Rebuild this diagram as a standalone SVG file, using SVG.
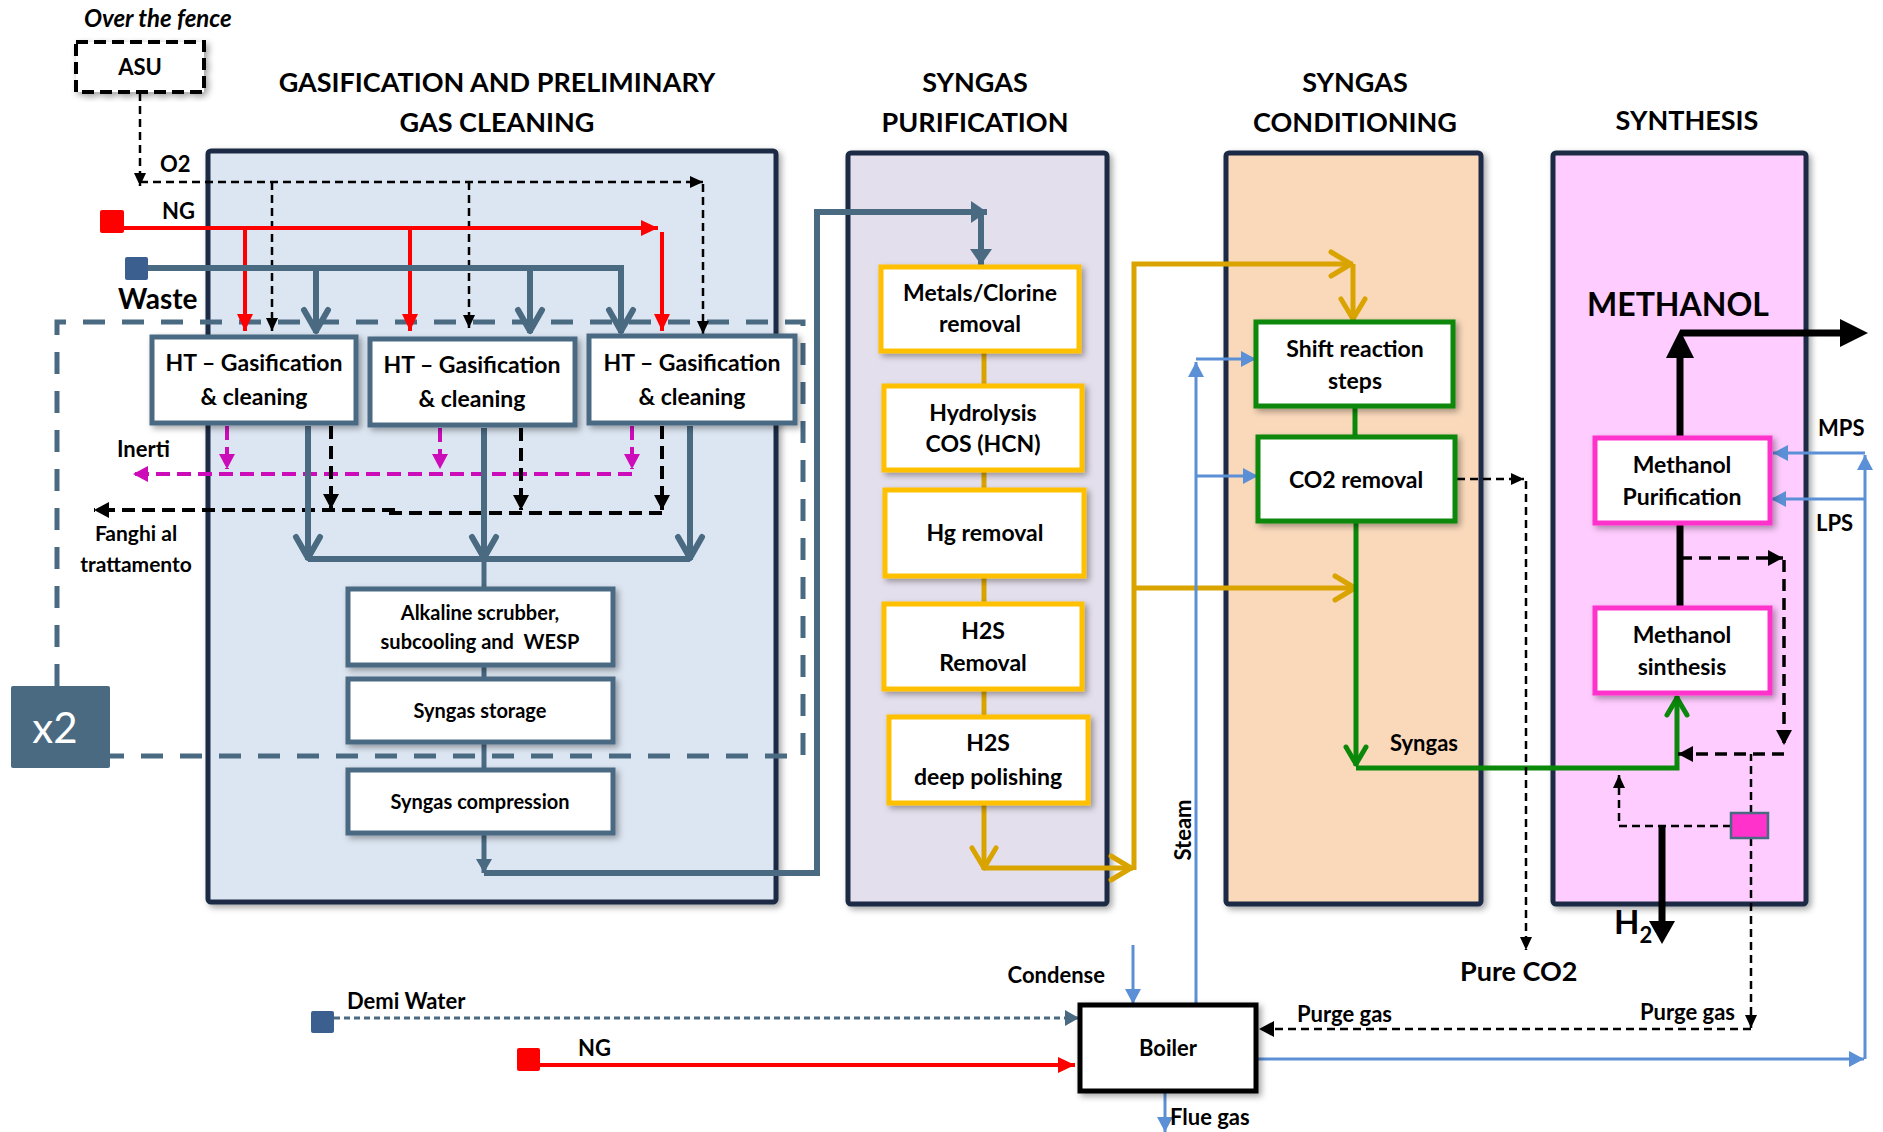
<svg xmlns="http://www.w3.org/2000/svg" width="1883" height="1132" viewBox="0 0 1883 1132">
<style>
  text { font-family: Lato, "Liberation Sans", sans-serif; font-weight: bold; fill: #000; }
  .title { font-size: 27px; text-anchor: middle; }
  .bt { font-size: 23px; text-anchor: middle; }
  .bs { font-size: 20px; text-anchor: middle; }
  .lbl { font-size: 22px; }
  .panel { stroke: #1b2b45; stroke-width: 5; }
  .sbox { fill: #fff; stroke: #4a6a82; stroke-width: 5; }
  .gbox { fill: #fff; stroke: #ffc000; stroke-width: 5; }
  .grbox { fill: #fff; stroke: #0a880a; stroke-width: 5; }
  .mbox { fill: #fff; stroke: #ff33cc; stroke-width: 5; }
  .steel { fill: none; stroke: #4a6a82; stroke-width: 6; }
  .gold { fill: none; stroke: #d9a400; stroke-width: 5; }
  .green { fill: none; stroke: #0a880a; stroke-width: 5; }
  .blue { fill: none; stroke: #5b90d6; stroke-width: 3; }
  .red { fill: none; stroke: #ff0000; stroke-width: 4; }
  .dblk { fill: none; stroke: #000; stroke-width: 2.5; stroke-dasharray: 8 5; }
  .dblk2 { fill: none; stroke: #000; stroke-width: 4; stroke-dasharray: 13 7; }
  .dmag { fill: none; stroke: #cc0cb8; stroke-width: 4; stroke-dasharray: 14 7; }
  .thick { fill: none; stroke: #000; stroke-width: 7; }
</style>
<defs>
  <filter id="sh" x="-10%" y="-10%" width="130%" height="130%">
    <feDropShadow dx="3" dy="3" stdDeviation="3" flood-color="#000" flood-opacity="0.35"/>
  </filter>
  <marker id="aBlk" markerUnits="userSpaceOnUse" orient="auto" overflow="visible" markerWidth="1" markerHeight="1">
    <path d="M-13,-6 L0,0 L-13,6 Z" fill="#000"/>
  </marker>
  <marker id="aBlk2" markerUnits="userSpaceOnUse" orient="auto" overflow="visible" markerWidth="1" markerHeight="1">
    <path d="M-15,-8 L0,0 L-15,8 Z" fill="#000"/>
  </marker>
  <marker id="aRed" markerUnits="userSpaceOnUse" orient="auto" overflow="visible" markerWidth="1" markerHeight="1">
    <path d="M-17,-8 L0,0 L-17,8 Z" fill="#ff0000"/>
  </marker>
  <marker id="aMag" markerUnits="userSpaceOnUse" orient="auto" overflow="visible" markerWidth="1" markerHeight="1">
    <path d="M-15,-8 L0,0 L-15,8 Z" fill="#cc0cb8"/>
  </marker>
  <marker id="aBlue" markerUnits="userSpaceOnUse" orient="auto" overflow="visible" markerWidth="1" markerHeight="1">
    <path d="M-15,-8 L0,0 L-15,8 Z" fill="#5b90d6"/>
  </marker>
  <marker id="aSteel" markerUnits="userSpaceOnUse" orient="auto" overflow="visible" markerWidth="1" markerHeight="1">
    <path d="M-16,-11 L0,0 L-16,11 Z" fill="#4a6a82"/>
  </marker>
  <marker id="aSteelS" markerUnits="userSpaceOnUse" orient="auto" overflow="visible" markerWidth="1" markerHeight="1">
    <path d="M-14,-8 L0,0 L-14,8 Z" fill="#4a6a82"/>
  </marker>
  <marker id="cSteel" markerUnits="userSpaceOnUse" orient="auto" overflow="visible" markerWidth="1" markerHeight="1">
    <path d="M-23,-12 L-2,0 L-23,12" fill="none" stroke="#4a6a82" stroke-width="6" stroke-linecap="round" stroke-linejoin="round"/>
  </marker>
  <marker id="cGold" markerUnits="userSpaceOnUse" orient="auto" overflow="visible" markerWidth="1" markerHeight="1">
    <path d="M-22,-12 L-2,0 L-22,12" fill="none" stroke="#d9a400" stroke-width="5" stroke-linecap="round" stroke-linejoin="round"/>
  </marker>
  <marker id="cGreen" markerUnits="userSpaceOnUse" orient="auto" overflow="visible" markerWidth="1" markerHeight="1">
    <path d="M-19,-10 L-2,0 L-19,10" fill="none" stroke="#0a880a" stroke-width="5" stroke-linecap="round" stroke-linejoin="round"/>
  </marker>
</defs>

<rect width="1883" height="1132" fill="#fff"/>

<!-- Panels -->
<g id="panel-gasification">
  <rect class="panel" x="208" y="151" width="568" height="751" rx="3" fill="#dce6f2" filter="url(#sh)"/>
  <text class="title" x="497" y="92">GASIFICATION AND PRELIMINARY</text>
  <text class="title" x="497" y="132">GAS CLEANING</text>
</g>
<g id="panel-purification">
  <rect class="panel" x="848" y="153" width="259" height="751" rx="3" fill="#e4dfec" filter="url(#sh)"/>
  <text class="title" x="975" y="92">SYNGAS</text>
  <text class="title" x="975" y="132">PURIFICATION</text>
</g>
<g id="panel-conditioning">
  <rect class="panel" x="1226" y="153" width="255" height="751" rx="3" fill="#fad9bb" filter="url(#sh)"/>
  <text class="title" x="1355" y="92">SYNGAS</text>
  <text class="title" x="1355" y="132">CONDITIONING</text>
</g>
<g id="panel-synthesis">
  <rect class="panel" x="1553" y="153" width="253" height="751" rx="3" fill="#ffccff" filter="url(#sh)"/>
  <text class="title" x="1687" y="130">SYNTHESIS</text>
</g>

<!-- x2 repetition frame -->
<g id="x2-frame">
  <path d="M57,686 V322 H803 V756 H110" fill="none" stroke="#4a6a82" stroke-width="5" stroke-dasharray="22 17"/>
</g>
<g id="x2-badge">
  <rect x="11" y="686" width="99" height="82" rx="2" fill="#4a6a82"/>
  <text x="55" y="743" style="font-size:42px;font-weight:normal;fill:#fff;text-anchor:middle">x2</text>
</g>

<!-- Connectors -->
<g id="connectors">
  <!-- O2 from ASU -->
  <path class="dblk" d="M140,93 V186" marker-end="url(#aBlk)"/>
  <path class="dblk" d="M140,182 H703" marker-end="url(#aBlk)"/>
  <path class="dblk" d="M703,184 V334" marker-end="url(#aBlk)"/>
  <path class="dblk" d="M272,182 V331" marker-end="url(#aBlk)"/>
  <path class="dblk" d="M469,182 V328" marker-end="url(#aBlk)"/>
  <!-- NG -->
  <path class="red" d="M124,228 H658" marker-end="url(#aRed)"/>
  <path class="red" d="M245,228 V331" marker-end="url(#aRed)"/>
  <path class="red" d="M410,228 V331" marker-end="url(#aRed)"/>
  <path class="red" d="M662,232 V331" marker-end="url(#aRed)"/>
  <!-- Waste -->
  <path class="steel" d="M148,268 H621 V333" marker-end="url(#cSteel)"/>
  <path class="steel" d="M316,268 V333" marker-end="url(#cSteel)"/>
  <path class="steel" d="M530,268 V333" marker-end="url(#cSteel)"/>
  <!-- Inerti (magenta) -->
  <path class="dmag" d="M227,426 V469" marker-end="url(#aMag)"/>
  <path class="dmag" d="M440,428 V469" marker-end="url(#aMag)"/>
  <path class="dmag" d="M632,426 V469" marker-end="url(#aMag)"/>
  <path class="dmag" d="M632,474 H133" marker-end="url(#aMag)"/>
  <!-- Fanghi (black dashed) -->
  <path class="dblk2" d="M331,426 V509" marker-end="url(#aBlk2)"/>
  <path class="dblk2" d="M521,428 V510" marker-end="url(#aBlk2)"/>
  <path class="dblk2" d="M662,426 V510" marker-end="url(#aBlk2)"/>
  <path class="dblk2" d="M662,513 H387"/>
  <path class="dblk2" d="M395,510 H94" marker-end="url(#aBlk2)"/>
  <!-- Gasifier outlets -->
  <path class="steel" d="M308,426 V560" marker-end="url(#cSteel)"/>
  <path class="steel" d="M484,428 V560" marker-end="url(#cSteel)"/>
  <path class="steel" d="M690,426 V560" marker-end="url(#cSteel)"/>
  <path class="steel" d="M308,559 H690"/>
  <path class="steel" d="M484,559 V588" style="stroke-width:5"/>
  <path class="steel" d="M484,665 V679" style="stroke-width:5"/>
  <path class="steel" d="M484,742 V770" style="stroke-width:5"/>
  <path class="steel" d="M484,833 V873" style="stroke-width:5" marker-end="url(#aSteelS)"/>
  <path class="steel" d="M484,873 H817 V212 H987" marker-end="url(#aSteel)"/>
  <path class="steel" d="M981,212 V265" marker-end="url(#aSteel)"/>
  <!-- Purification chain (gold) -->
  <path class="gold" d="M984,351 V386"/>
  <path class="gold" d="M984,470 V490"/>
  <path class="gold" d="M984,576 V604"/>
  <path class="gold" d="M984,689 V717"/>
  <path class="gold" d="M984,803 V870" marker-end="url(#cGold)"/>
  <path class="gold" d="M984,868 H1133" marker-end="url(#cGold)"/>
  <path class="gold" d="M1134,870 V264 H1353" marker-end="url(#cGold)"/>
  <path class="gold" d="M1353,264 V321" marker-end="url(#cGold)"/>
  <path class="gold" d="M1134,588 H1357" marker-end="url(#cGold)"/>
  <!-- Conditioning (green) -->
  <path class="green" d="M1355,406 V437"/>
  <path class="green" d="M1356,521 V766" marker-end="url(#cGreen)"/>
  <path class="green" d="M1356,768 H1677 V696" marker-end="url(#cGreen)"/>
  <!-- CO2 out -->
  <path class="dblk" d="M1457,479 H1524" marker-end="url(#aBlk)"/>
  <path class="dblk" d="M1526,481 V950" marker-end="url(#aBlk)"/>
  <!-- Steam (blue) -->
  <path class="blue" d="M1196,1005 V362" marker-end="url(#aBlue)"/>
  <path class="blue" d="M1196,359 H1256" marker-end="url(#aBlue)"/>
  <path class="blue" d="M1196,476 H1258" marker-end="url(#aBlue)"/>
  <path class="blue" d="M1256,1059 H1864" marker-end="url(#aBlue)"/>
  <path class="blue" d="M1865,1059 V455" marker-end="url(#aBlue)"/>
  <path class="blue" d="M1865,453 H1773" marker-end="url(#aBlue)"/>
  <path class="blue" d="M1865,499 H1771" marker-end="url(#aBlue)"/>
  <path class="blue" d="M1133,945 V1004" marker-end="url(#aBlue)"/>
  <path class="blue" d="M1165,1093 V1132" marker-end="url(#aBlue)"/>
  <!-- Methanol product -->
  <path class="thick" d="M1680,608 V523"/>
  <path class="thick" d="M1680,438 V355"/>
  <polygon points="1666,358 1694,358 1680,330" fill="#000"/>
  <path class="thick" d="M1680,333 H1842"/>
  <polygon points="1840,319 1840,347 1868,333" fill="#000"/>
  <!-- Recycle loop -->
  <path class="dblk" style="stroke-width:3.5;stroke-dasharray:12 7" d="M1680,558 H1783" marker-end="url(#aBlk2)"/>
  <path class="dblk" style="stroke-width:3.5;stroke-dasharray:12 7" d="M1784,560 V745" marker-end="url(#aBlk2)"/>
  <path class="dblk" style="stroke-width:3.5;stroke-dasharray:12 7" d="M1784,754 H1678" marker-end="url(#aBlk2)"/>
  <path class="dblk" d="M1751,813 V754"/>
  <path class="dblk" d="M1731,826 H1619 V775" marker-end="url(#aBlk)"/>
  <!-- H2 -->
  <path class="thick" d="M1662,826 V923"/>
  <polygon points="1649,921 1675,921 1662,944" fill="#000"/>
  <!-- Purge gas -->
  <path class="dblk" d="M1751,838 V1028" marker-end="url(#aBlk)"/>
  <path class="dblk" d="M1751,1029 H1259" marker-end="url(#aBlk2)"/>
  <!-- Boiler feeds -->
  <path fill="none" stroke="#4a6a82" stroke-width="3" stroke-dasharray="6 4" d="M334,1018 H1079" marker-end="url(#aSteelS)"/>
  <path class="red" d="M540,1065 H1075" marker-end="url(#aRed)"/>
</g>

<!-- Nodes -->
<g id="asu">
  <rect x="76" y="42" width="128" height="50" fill="#fff" stroke="#000" stroke-width="4" stroke-dasharray="12 6" filter="url(#sh)"/>
  <text x="140" y="75" class="lbl" text-anchor="middle">ASU</text>
  <text x="84" y="27" style="font-size:24px;font-style:italic">Over the fence</text>
</g>
<g id="ng-source">
  <rect x="100" y="210" width="24" height="23" rx="2" fill="#ff0000"/>
  <text x="162" y="219" class="lbl">NG</text>
  <text x="160" y="172" class="lbl">O2</text>
</g>
<g id="waste-source">
  <rect x="125" y="257" width="23" height="23" rx="2" fill="#3b5f8f"/>
  <text x="118" y="309" style="font-size:28px">Waste</text>
</g>
<g id="ht1">
  <rect class="sbox" x="152" y="337" width="204" height="86" filter="url(#sh)"/>
  <text class="bt" x="254" y="371">HT – Gasification</text>
  <text class="bt" x="254" y="405">&amp; cleaning</text>
</g>
<g id="ht2">
  <rect class="sbox" x="370" y="339" width="205" height="86" filter="url(#sh)"/>
  <text class="bt" x="472" y="373">HT – Gasification</text>
  <text class="bt" x="472" y="407">&amp; cleaning</text>
</g>
<g id="ht3">
  <rect class="sbox" x="589" y="336" width="206" height="87" filter="url(#sh)"/>
  <text class="bt" x="692" y="371">HT – Gasification</text>
  <text class="bt" x="692" y="405">&amp; cleaning</text>
</g>
<g id="inerti-label">
  <text x="117" y="457" class="lbl">Inerti</text>
</g>
<g id="fanghi-label">
  <text x="136" y="541" style="font-size:21px;text-anchor:middle">Fanghi al</text>
  <text x="136" y="572" style="font-size:21px;text-anchor:middle">trattamento</text>
</g>
<g id="alkaline">
  <rect class="sbox" x="348" y="589" width="265" height="76" filter="url(#sh)"/>
  <text class="bs" x="480" y="620">Alkaline scrubber,</text>
  <text class="bs" x="480" y="649" xml:space="preserve">subcooling and  WESP</text>
</g>
<g id="storage">
  <rect class="sbox" x="348" y="679" width="265" height="63" filter="url(#sh)"/>
  <text class="bs" x="480" y="718">Syngas storage</text>
</g>
<g id="compression">
  <rect class="sbox" x="348" y="770" width="265" height="63" filter="url(#sh)"/>
  <text class="bs" x="480" y="809">Syngas compression</text>
</g>

<g id="metals">
  <rect class="gbox" x="881" y="267" width="198" height="84" filter="url(#sh)"/>
  <text class="bt" x="980" y="301">Metals/Clorine</text>
  <text class="bt" x="980" y="332">removal</text>
</g>
<g id="hydrolysis">
  <rect class="gbox" x="884" y="386" width="198" height="84" filter="url(#sh)"/>
  <text class="bt" x="983" y="421">Hydrolysis</text>
  <text class="bt" x="983" y="452">COS (HCN)</text>
</g>
<g id="hg">
  <rect class="gbox" x="885" y="490" width="199" height="86" filter="url(#sh)"/>
  <text class="bt" x="985" y="541">Hg removal</text>
</g>
<g id="h2s-removal">
  <rect class="gbox" x="884" y="604" width="198" height="85" filter="url(#sh)"/>
  <text class="bt" x="983" y="639">H2S</text>
  <text class="bt" x="983" y="671">Removal</text>
</g>
<g id="h2s-polishing">
  <rect class="gbox" x="889" y="717" width="199" height="86" filter="url(#sh)"/>
  <text class="bt" x="988" y="751">H2S</text>
  <text class="bt" x="988" y="785">deep polishing</text>
</g>

<g id="shift">
  <rect class="grbox" x="1256" y="322" width="197" height="84" filter="url(#sh)"/>
  <text class="bt" x="1355" y="357">Shift reaction</text>
  <text class="bt" x="1355" y="389">steps</text>
</g>
<g id="co2-removal">
  <rect class="grbox" x="1258" y="437" width="197" height="84" filter="url(#sh)"/>
  <text class="bt" x="1356" y="488">CO2 removal</text>
</g>
<g id="syngas-label">
  <text x="1390" y="751" class="lbl">Syngas</text>
</g>
<g id="steam-label">
  <text class="lbl" transform="translate(1191,830) rotate(-90)" text-anchor="middle">Steam</text>
</g>
<g id="pure-co2">
  <text x="1460" y="981" style="font-size:27px">Pure CO2</text>
</g>

<g id="methanol-product">
  <text x="1587" y="316" style="font-size:32px">METHANOL</text>
</g>
<g id="methanol-purification">
  <rect class="mbox" x="1595" y="438" width="175" height="85" filter="url(#sh)"/>
  <text class="bt" x="1682" y="473">Methanol</text>
  <text class="bt" x="1682" y="505">Purification</text>
</g>
<g id="methanol-synthesis">
  <rect class="mbox" x="1595" y="608" width="175" height="85" filter="url(#sh)"/>
  <text class="bt" x="1682" y="643">Methanol</text>
  <text class="bt" x="1682" y="675">sinthesis</text>
</g>
<g id="mps-lps">
  <text x="1818" y="436" class="lbl">MPS</text>
  <text x="1816" y="531" class="lbl">LPS</text>
</g>
<g id="h2-splitter">
  <rect x="1731" y="813" width="37" height="25" fill="#ff33cc" stroke="#4a6a82" stroke-width="2.5"/>
</g>
<g id="h2-label">
  <text x="1614" y="934" style="font-size:33px">H<tspan dy="9" style="font-size:22px">2</tspan></text>
</g>

<g id="boiler">
  <rect x="1080" y="1005" width="176" height="86" fill="#fff" stroke="#000" stroke-width="5" filter="url(#sh)"/>
  <text class="lbl" x="1168" y="1056" text-anchor="middle">Boiler</text>
</g>
<g id="demi-water">
  <rect x="311" y="1011" width="23" height="22" rx="2" fill="#3b5f8f"/>
  <text x="347" y="1009" class="lbl">Demi Water</text>
</g>
<g id="ng-boiler">
  <rect x="517" y="1048" width="23" height="23" rx="2" fill="#ff0000"/>
  <text x="578" y="1056" class="lbl">NG</text>
</g>
<g id="boiler-labels">
  <text x="1105" y="983" class="lbl" text-anchor="end">Condense</text>
  <text x="1170" y="1125" class="lbl">Flue gas</text>
  <text x="1297" y="1022" class="lbl">Purge gas</text>
  <text x="1640" y="1020" class="lbl">Purge gas</text>
</g>
</svg>
